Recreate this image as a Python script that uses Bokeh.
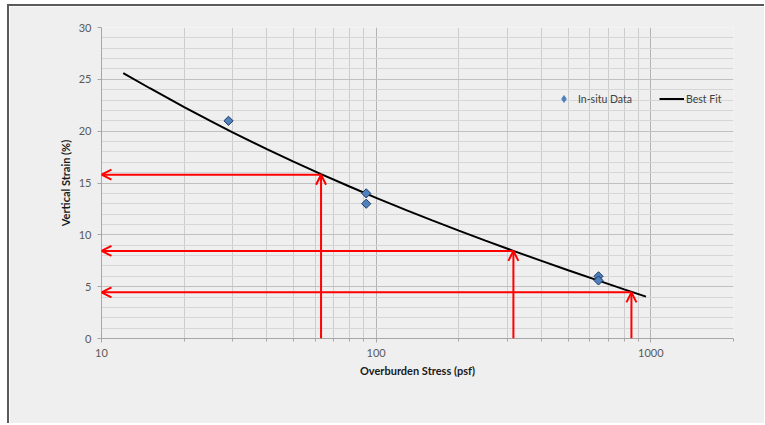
import numpy as np
from bokeh.plotting import figure
from bokeh.models import (Range1d, FixedTicker, SingleIntervalTicker, Legend,
                          LegendItem, Arrow, OpenHead, ColumnDataSource)
from bokeh.embed import file_html
from bokeh.resources import INLINE

# ---- data ----
insitu_stress = [29, 92, 92, 645, 645]
insitu_strain = [21.0, 14.0, 13.0, 6.0, 5.6]

fit_stress = [12, 15, 20, 25, 30, 40, 50, 63, 80, 100, 130, 160, 200, 250, 316,
              400, 500, 645, 800, 960]
fit_strain = [25.6, 24.14, 22.31, 20.96, 19.89, 18.27, 17.06, 15.86, 14.66, 13.57,
              12.34, 11.39, 10.41, 9.44, 8.45, 7.49, 6.59, 5.58, 4.74, 4.04]

arrow_stress = [63, 316, 850]
arrow_strain = [15.8, 8.45, 4.45]
arrow_left = 10

x_ticks = [10, 100, 1000]
x_tick_labels = ["10", "100", "1000"]
x_minor = [20, 30, 40, 50, 60, 70, 80, 90, 200, 300, 400, 500, 600, 700, 800, 900, 2000]

FONT = "Lato"
BG = "#efefef"

p = figure(x_axis_type="log", x_range=Range1d(10, 2000), y_range=Range1d(0, 30),
           frame_width=632, frame_height=311,
           min_border_left=92, min_border_top=21, min_border_right=31, min_border_bottom=85,
           output_backend="svg", toolbar_location=None)
p.styles = {"border-top": "2px solid #5a5a5a", "border-left": "2px solid #5a5a5a",
            "margin-top": "4px", "margin-left": "7px"}
p.background_fill_color = BG
p.border_fill_color = BG
p.outline_line_color = None

# axes
p.xaxis.ticker = FixedTicker(ticks=x_ticks, minor_ticks=x_minor)
p.xaxis.major_label_overrides = {t: l for t, l in zip(x_ticks, x_tick_labels)}
p.yaxis.ticker = SingleIntervalTicker(interval=5, num_minor_ticks=5)

for ax in (p.xaxis[0], p.yaxis[0]):
    ax.axis_line_color = "#a6a6a6"
    ax.major_tick_line_color = "#a6a6a6"
    ax.minor_tick_line_color = "#a6a6a6"
    ax.major_tick_in = 0
    ax.major_tick_out = 4
    ax.minor_tick_in = 0
    ax.major_label_text_font = FONT
    ax.major_label_text_font_size = "11px"
    ax.major_label_text_color = "#595959"
    ax.major_label_standoff = 6
    ax.axis_label_text_font = FONT
    ax.axis_label_text_font_size = "11px"
    ax.axis_label_text_font_style = "bold"
    ax.axis_label_text_color = "#1a1a1a"
p.xaxis.minor_tick_out = 3
p.yaxis.minor_tick_out = 0
p.xaxis.axis_label = "Overburden Stress (psf)"
p.yaxis.axis_label = "Vertical Strain (%)"
p.xaxis.axis_label_standoff = 4
p.yaxis.axis_label_standoff = 4

# grids
p.xgrid.grid_line_color = "#b4b4b4"
p.xgrid.minor_grid_line_color = "#cdcdcd"
p.ygrid.grid_line_color = "#c0c0c0"
p.ygrid.minor_grid_line_color = "#d6d6d6"

# fit line
fit = p.line(fit_stress, fit_strain, line_color="black", line_width=2)

# red arrows
src_h = ColumnDataSource(dict(x0=arrow_stress, y0=arrow_strain,
                              x1=[arrow_left] * len(arrow_stress), y1=arrow_strain))
src_v = ColumnDataSource(dict(x0=arrow_stress, y0=[0] * len(arrow_stress),
                              x1=arrow_stress, y1=arrow_strain))
for src in (src_h, src_v):
    p.add_layout(Arrow(end=OpenHead(size=10, line_color="#ff0000", line_width=2),
                       x_start="x0", y_start="y0", x_end="x1", y_end="y1",
                       line_color="#ff0000", line_width=2, source=src))

# data points
pts = p.scatter(insitu_stress, insitu_strain, marker="square", angle=np.pi / 4,
                size=6.5, fill_color="#4f81bd", line_color="#1f3864", line_width=1)
# legend-only proxy (legend glyphs ignore angle), hidden in the plot
pts_key = p.scatter(insitu_stress, insitu_strain, marker="diamond", fill_color="#4f81bd",
                    line_color="#4f81bd", line_width=1, visible=False)

# legends
leg1 = Legend(items=[LegendItem(label="In-situ Data", renderers=[pts_key])],
              location=(454, 231), glyph_width=17, glyph_height=17, label_height=17,
              label_standoff=6)
leg2 = Legend(items=[LegendItem(label="Best Fit", renderers=[fit])],
              location=(558, 231), glyph_width=25, glyph_height=17, label_height=17,
              label_standoff=2)
for lg in (leg1, leg2):
    lg.border_line_color = None
    lg.background_fill_alpha = 0
    lg.padding = 0
    lg.margin = 0
    lg.label_text_font = FONT
    lg.label_text_font_size = "10.5px"
    lg.label_text_color = "#404040"
    p.add_layout(lg, "center")

open("out.html", "w").write(file_html(p, INLINE))
